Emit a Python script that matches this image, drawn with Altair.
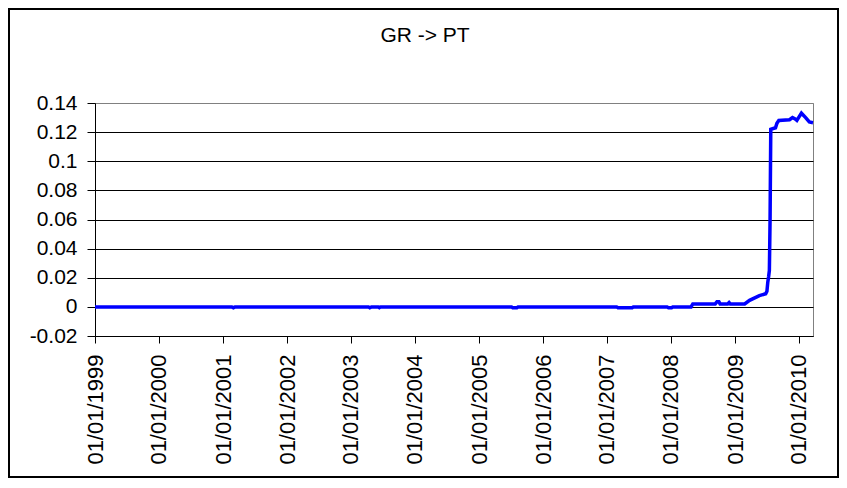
import altair as alt
import pandas as pd

title_text = "GR -> PT"

dates = [
    "1999-01-01", "2001-02-20", "2001-03-01", "2001-03-10",
    "2003-04-10", "2003-04-18", "2003-04-28", "2003-06-05", "2003-06-12", "2003-06-20",
    "2005-07-05", "2005-07-12", "2005-08-05", "2005-08-12",
    "2007-02-25", "2007-03-05", "2007-05-25", "2007-06-01",
    "2007-12-10", "2007-12-18", "2008-01-05", "2008-01-12",
    "2008-04-25", "2008-05-05", "2008-09-10", "2008-09-20", "2008-10-01", "2008-10-08",
    "2008-11-20", "2008-11-28", "2008-12-05", "2009-02-25", "2009-03-25", "2009-05-20",
    "2009-06-25", "2009-07-02", "2009-07-07", "2009-07-12", "2009-07-16", "2009-07-20",
    "2009-07-24", "2009-08-20", "2009-08-28", "2009-09-08", "2009-11-08", "2009-11-25",
    "2009-12-10", "2009-12-20", "2010-01-15", "2010-02-08", "2010-03-01", "2010-03-22",
]
values = [
    0.0, 0.0, -0.0006, 0.0,
    0.0, -0.0006, 0.0, 0.0, -0.0006, 0.0,
    0.0, -0.0006, -0.0006, 0.0,
    0.0, -0.0006, -0.0006, 0.0,
    0.0, -0.0006, -0.0006, 0.0,
    0.0, 0.002, 0.002, 0.0035, 0.0035, 0.002,
    0.002, 0.003, 0.002, 0.002, 0.0045, 0.0077,
    0.009, 0.0107, 0.017, 0.021, 0.025, 0.06,
    0.122, 0.123, 0.126, 0.128, 0.1285, 0.13,
    0.129, 0.128, 0.133, 0.13, 0.127, 0.1265,
]

y_ticks = [-0.02, 0.0, 0.02, 0.04, 0.06, 0.08, 0.1, 0.12, 0.14]
x_tick_years = list(range(1999, 2011))
x_start = "1999-01-01"
x_end = "2010-03-22"

df = pd.DataFrame({"date": dates, "value": values})

FONT = "Liberation Sans"

line = alt.Chart(df).mark_line(color="#0000FF", strokeWidth=3.5).encode(
    x=alt.X(
        "date:T",
        title=None,
        scale=alt.Scale(type="utc", domain=[x_start, x_end], nice=False),
        axis=alt.Axis(
            values=[alt.DateTime(year=y, month=1, date=1, utc=True) for y in x_tick_years],
            labelExpr="utcFormat(datum.value, '%d/%m/%Y')",
            labelAngle=-90,
            labelAlign="right",
            labelBaseline="middle",
            labelPadding=11,
            labelFontSize=22,
            labelFont=FONT,
            labelColor="black",
            labelOverlap=False,
            labelBound=False,
            labelFlush=False,
            tickSize=7,
            tickColor="black",
            domainColor="black",
            grid=False,
        ),
    ),
    y=alt.Y(
        "value:Q",
        title=None,
        scale=alt.Scale(domain=[y_ticks[0], y_ticks[-1]], nice=False, zero=False),
        axis=alt.Axis(
            values=y_ticks,
            labelExpr="datum.value < 0 ? '-' + format(-datum.value, '.2~f') : format(datum.value, '.2~f')",
            labelPadding=10,
            labelFontSize=21,
            labelFont=FONT,
            labelColor="black",
            labelFlush=False,
            tickSize=8,
            tickColor="black",
            domainColor="black",
            grid=True,
            gridColor=alt.condition("datum.value > 0.139", alt.value("#808080"), alt.value("black")),
            gridWidth=1,
        ),
    ),
)

title = alt.Chart(alt.Data(values=[{}])).mark_text(
    font=FONT, fontSize=21, color="black", align="center", baseline="middle"
).encode(x=alt.value(330), y=alt.value(-67), text=alt.value(title_text))

border = alt.Chart(alt.Data(values=[{}])).mark_rect(
    filled=False, stroke="black", strokeWidth=2
).encode(x=alt.value(-86), x2=alt.value(743), y=alt.value(-94), y2=alt.value(374))

chart = alt.layer(line, title, border).properties(
    width=718,
    height=233,
    autosize=alt.AutoSizeParams(type="none"),
    padding={"left": 87, "top": 95, "right": 26, "bottom": 142},
).configure_view(stroke="#808080", strokeWidth=1)

chart.save("out.html", embed_options={"renderer": "svg", "actions": False})
